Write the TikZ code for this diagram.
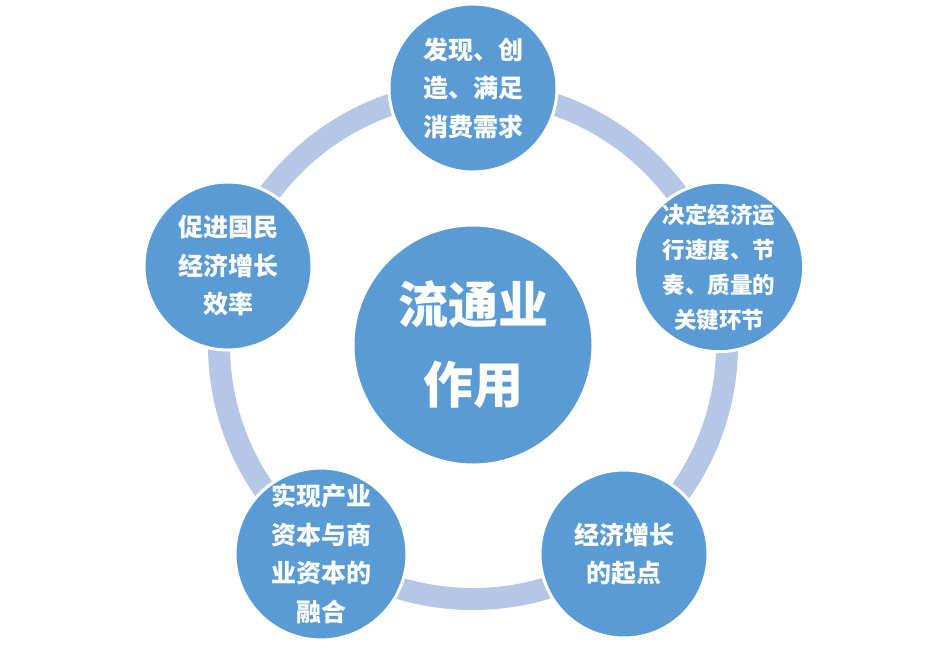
\documentclass[tikz,border=0pt]{standalone}
\usepackage{fontspec}
\newfontfamily\cjk{Noto Sans CJK SC}[BoldFont={Noto Sans CJK SC Black}]
\definecolor{circblue}{HTML}{5B9BD5}
\definecolor{ringblue}{HTML}{B4C7E7}
\begin{document}
\begin{tikzpicture}[x=1pt,y=-1pt,
  ring/.style={draw=ringblue,line width=22pt},
  bubble/.style={circle,fill=circblue,draw=white,line width=3pt,text=white,align=center,inner sep=0pt,
    font=\cjk\bfseries\fontsize{25}{38.5}\selectfont},
  hub/.style={bubble,minimum size=240pt,font=\cjk\bfseries\fontsize{50}{80}\selectfont},
  sat/.style={bubble,minimum size=168pt}]
\useasboundingbox (0,0) rectangle (945,654);
\draw[ring] (473,345) circle[radius=254];
\node[hub] (c) at (473,345) {流通业\\作用};
\node[sat] (t) at (473,88) {发现、创\\造、满足\\消费需求};
\node[sat,font=\cjk\bfseries\fontsize{22.5}{35}\selectfont] (r) at (719,267) {决定经济运\\行速度、节\\奏、质量的\\关键环节};
\node[sat] (br) at (624,554) {经济增长\\的起点};
\node[sat] (bl) at (321,554) {实现产业\\资本与商\\业资本的\\融合};
\node[sat] (l) at (228,266) {促进国民\\经济增长\\效率};
\end{tikzpicture}
\end{document}
